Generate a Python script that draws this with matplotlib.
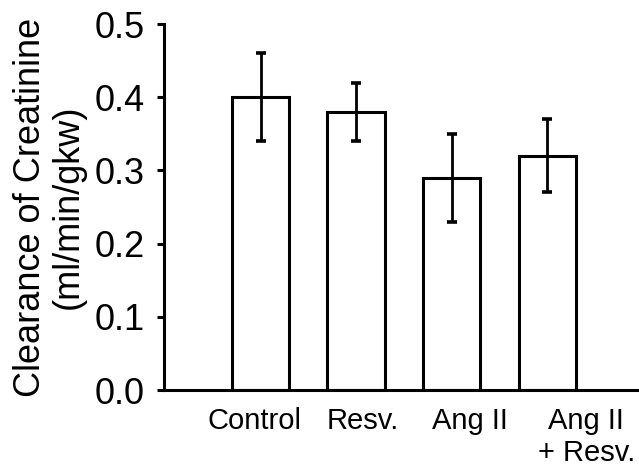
import matplotlib
matplotlib.use("Agg")
import matplotlib.pyplot as plt
import numpy as np

plt.rcParams['font.family'] = ['Liberation Sans', 'DejaVu Sans']

categories = ["Control", "Resv.", "Ang II", "Ang II\n+ Resv."]
values = [0.40, 0.38, 0.29, 0.32]
errors = [0.06, 0.04, 0.06, 0.05]
yticks = [0.0, 0.1, 0.2, 0.3, 0.4, 0.5]
ylabel = "Clearance of Creatinine\n(ml/min/gkw)"

# layout: horizontal offsets of category labels relative to bar centres
label_offsets = [-0.064, 0.07, 0.19, 0.41]

fig = plt.figure(figsize=(6.39, 4.70), dpi=100)
ax = fig.add_axes([164/639, (470-390)/470, 1 - 164/639, (390-24)/470])

x = np.arange(len(categories))
lw = 2.2
ax.bar(x, values, width=0.6, color='white', edgecolor='black', linewidth=lw, zorder=2)
ax.errorbar(x, values, yerr=errors, fmt='none', ecolor='black', elinewidth=2.0,
            capsize=3.6, capthick=2.6, zorder=3)

ax.set_xlim(-1.01, 3.96)
ax.set_ylim(0, 0.5)
ax.set_yticks(yticks)
ax.set_yticklabels([f"{t:.1f}" for t in yticks])
ax.set_xticks(x + np.array(label_offsets))
ax.set_xticklabels(categories, fontsize=21)
ax.tick_params(axis='x', length=0, pad=12)
ax.tick_params(axis='y', length=5, width=2.2, labelsize=26, pad=9, direction='out')

for s in ['top', 'right']:
    ax.spines[s].set_visible(False)
for s in ['left', 'bottom']:
    ax.spines[s].set_linewidth(lw)

ax.set_ylabel(ylabel, fontsize=26, linespacing=1.1)
ax.yaxis.set_label_coords(-(164 - 86) / 475, 0.5)

fig.savefig("out.png", dpi=100)
